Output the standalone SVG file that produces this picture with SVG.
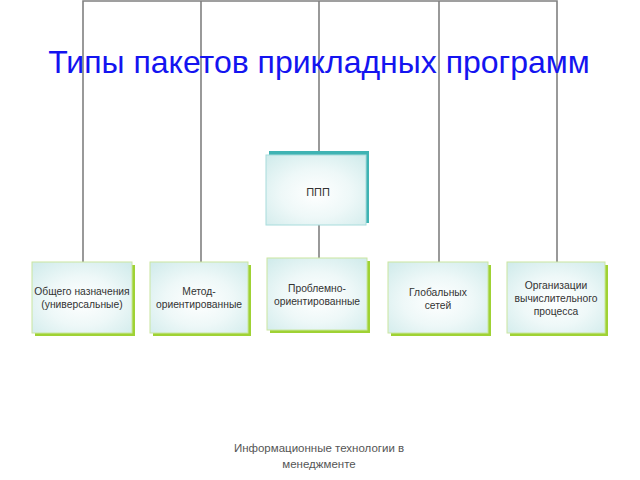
<svg xmlns="http://www.w3.org/2000/svg" width="640" height="480" viewBox="0 0 640 480">
<defs>
<radialGradient id="g" cx="50%" cy="55%" r="70%">
<stop offset="0" stop-color="#ffffff"/>
<stop offset="0.5" stop-color="#eef8f8"/>
<stop offset="1" stop-color="#d2ecec"/>
</radialGradient>
</defs>
<style>
.ln{stroke:#808080;stroke-width:1.6;fill:none}
.sg{fill:#9fd234}
.st{fill:#3fb3b3}
.bx{fill:url(#g);stroke:#c9e6a0;stroke-width:1}
.bt{fill:url(#g);stroke:#a8dcdc;stroke-width:1}
.t{font-family:"Liberation Sans",Arial,sans-serif;font-size:10.3px;fill:#333;text-anchor:middle}
</style>
<rect width="640" height="480" fill="#fff"/>
<g id="connectors">
<polyline class="ln" points="83,262 83,1 557,1 557,262"/>
<line class="ln" x1="201" y1="1" x2="201" y2="262"/>
<line class="ln" x1="319" y1="1" x2="319" y2="153"/>
<line class="ln" x1="319" y1="225" x2="319" y2="259"/>
<line class="ln" x1="439" y1="1" x2="439" y2="262"/>
</g>
<text x="319" y="73" font-family="'Liberation Sans',Arial,sans-serif" font-size="32" fill="#1414f0" text-anchor="middle">Типы пакетов прикладных программ</text>
<g id="ppp">
<rect class="st" x="269" y="151" width="100" height="72"/>
<rect class="bt" x="266" y="155" width="100" height="70"/>
<text class="t" x="318" y="196" style="font-size:11px">ППП</text>
</g>
<g id="n1">
<rect class="sg" x="35" y="265" width="100" height="71"/>
<rect class="bx" x="32" y="262" width="100" height="71"/>
<text class="t" x="82" y="295">Общего назначения</text>
<text class="t" x="82" y="308">(универсальные)</text>
</g>
<g id="n2">
<rect class="sg" x="153" y="265" width="98" height="71"/>
<rect class="bx" x="150" y="262" width="98" height="71"/>
<text class="t" x="199" y="295">Метод-</text>
<text class="t" x="199" y="308">ориентированные</text>
</g>
<g id="n3">
<rect class="sg" x="270" y="261" width="100" height="72"/>
<rect class="bx" x="267" y="258" width="100" height="72"/>
<text class="t" x="317" y="292">Проблемно-</text>
<text class="t" x="317" y="305">ориентированные</text>
</g>
<g id="n4">
<rect class="sg" x="391" y="265" width="100" height="71"/>
<rect class="bx" x="388" y="262" width="100" height="71"/>
<text class="t" x="438" y="296">Глобальных</text>
<text class="t" x="438" y="309">сетей</text>
</g>
<g id="n5">
<rect class="sg" x="510" y="265" width="98" height="71"/>
<rect class="bx" x="507" y="262" width="98" height="71"/>
<text class="t" x="556" y="289">Организации</text>
<text class="t" x="556" y="302">вычислительного</text>
<text class="t" x="556" y="315">процесса</text>
</g>
<text x="319" y="452" font-family="'Liberation Sans',Arial,sans-serif" font-size="11.5" fill="#555" text-anchor="middle">Информационные технологии в</text>
<text x="319" y="468" font-family="'Liberation Sans',Arial,sans-serif" font-size="11.5" fill="#555" text-anchor="middle">менеджменте</text>
</svg>
